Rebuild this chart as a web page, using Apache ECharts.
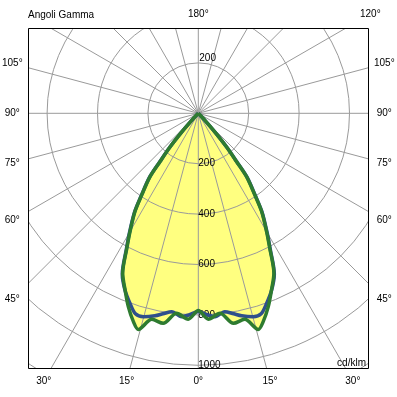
<!DOCTYPE html>
<html>
<head>
<meta charset="utf-8">
<title>Angoli Gamma</title>
<script src="https://cdn.jsdelivr.net/npm/echarts@6/dist/echarts.min.js"></script>
<style>
  html, body { margin: 0; padding: 0; background: #fff; }
  #main { width: 397px; height: 397px; }
</style>
</head>
<body>
<div id="main"></div>
<script>
// gamma angles (deg from nadir) and intensities in cd/klm, one list per C plane
var gammaC0 =  [0, 2.5, 4.7, 7.6, 10, 12.1, 15.1, 17.4, 19.8, 22.5, 25.3, 27.9, 30, 32.8, 34.7, 37.3, 38.4, 40, 41.5, 43, 45, 50, 90];
var planeC0 =  [787, 800, 810, 794, 808, 822, 836, 834, 801, 760, 706, 610, 546, 468, 398, 320, 250, 178, 102, 42, 5, 0, 0];
var gammaC90 = [0, 2.8, 6.2, 9.5, 12.7, 15.5, 17.3, 19.9, 22.5, 25.3, 27.9, 30, 32.8, 34.7, 37.3, 38.4, 40, 41.5, 43, 45, 50, 90];
var planeC90 = [783, 818, 798, 845, 838, 890, 866, 816, 759, 702, 606, 542, 464, 394, 316, 245, 175, 100, 40, 5, 0, 0];

var radiusTicks = [200, 400, 600, 800, 1000];
var sideLabels = [105, 90, 75, 60, 45];
var bottomLabels = [30, 15, 0, 15, 30];
var topLabels = [180, 120];

var W = 397;
var box = { x: 28, y: 28, w: 340, h: 340 };
var cx = 198.3, cy = 113.3;
var pxPerCd = 0.252;
var rMax = 1300;
var FONT = '"Liberation Sans", Arial, sans-serif';

// left half: angle = gamma, right half: angle = 360 - gamma
function curve(gammas, vals) {
    var pts = [];
    for (var i = gammas.length - 1; i >= 0; i--) pts.push([vals[i], gammas[i]]);
    for (var j = 1; j < gammas.length; j++) pts.push([vals[j], 360 - gammas[j]]);
    return pts;
}

var chart = echarts.init(document.getElementById('main'), null, { renderer: 'canvas' });

var graphics = [];
// white mask outside the frame
graphics.push({ type: 'rect', z: 100, shape: { x: 0, y: 0, width: W, height: box.y }, style: { fill: '#fff' } });
graphics.push({ type: 'rect', z: 100, shape: { x: 0, y: box.y + box.h, width: W, height: W }, style: { fill: '#fff' } });
graphics.push({ type: 'rect', z: 100, shape: { x: 0, y: 0, width: box.x, height: W }, style: { fill: '#fff' } });
graphics.push({ type: 'rect', z: 100, shape: { x: box.x + box.w, y: 0, width: W, height: W }, style: { fill: '#fff' } });
graphics.push({ type: 'rect', z: 101, shape: { x: box.x + 0.5, y: box.y + 0.5, width: box.w, height: box.h }, style: { fill: null, stroke: '#000', lineWidth: 1 } });

function txt(x, y, s, align) {
    graphics.push({ type: 'text', z: 102, x: x, y: y,
        style: { text: s, font: '10px ' + FONT, fill: '#000', align: align || 'center', verticalAlign: 'middle' } });
}
var rad = Math.PI / 180;
sideLabels.forEach(function (g) {
    var dy = 186 / Math.tan(g * rad);
    txt(cx - 186, cy + dy, g + '°');
    txt(cx + 186, cy + dy, g + '°');
});
bottomLabels.forEach(function (g, i) {
    var dx = (381 - cy) * Math.tan(g * rad);
    txt(i < 2 ? cx - dx : cx + dx, 381, g + '°');
});
topLabels.forEach(function (g) {
    txt(cx + (cy - 14) * Math.tan((180 - g) * rad), 14, g + '°');
});
txt(box.x, 15, 'Angoli Gamma', 'left');
graphics.push({ type: 'text', z: 102, x: box.x + box.w - 2, y: 363,
    style: { text: 'cd/klm', font: '10px ' + FONT, fill: '#000', align: 'right', verticalAlign: 'middle' } });
// the 200 ring label above the centre
txt(cx + 1, cy - radiusTicks[0] * pxPerCd - 5, String(radiusTicks[0]), 'left');

var option = {
    animation: false,
    backgroundColor: '#fff',
    polar: { center: [cx, cy], radius: rMax * pxPerCd },
    angleAxis: {
        type: 'value', min: 0, max: 360, interval: 15, startAngle: 270, clockwise: true, z: 2,
        axisLine: { show: false }, axisTick: { show: false }, axisLabel: { show: false },
        splitLine: { show: true, lineStyle: { color: '#9a9a9a', width: 1 } }
    },
    radiusAxis: {
        type: 'value', min: 0, max: rMax, interval: 200, z: 2,
        axisLine: { show: false }, axisTick: { show: false },
        axisLabel: {
            show: true, margin: 0, color: '#000', fontSize: 10, fontFamily: FONT,
            formatter: function (v) { return radiusTicks.indexOf(v) >= 0 ? String(v) : ''; }
        },
        splitLine: { show: true, lineStyle: { color: '#9a9a9a', width: 1 } }
    },
    series: [
        // yellow fill below the grid
        { type: 'line', coordinateSystem: 'polar', data: curve(gammaC90, planeC90), symbol: 'none', smooth: 0.3, z: 1,
          lineStyle: { width: 0 }, areaStyle: { color: '#ffff80', opacity: 1 } },
        { type: 'line', coordinateSystem: 'polar', data: curve(gammaC0, planeC0), symbol: 'none', smooth: 0.3, z: 1,
          lineStyle: { width: 0 }, areaStyle: { color: '#ffff80', opacity: 1 } },
        { name: 'C0-180', type: 'line', coordinateSystem: 'polar', data: curve(gammaC0, planeC0), symbol: 'none', smooth: 0.3, z: 3,
          lineStyle: { color: '#2f4f8c', width: 3.5 } },
        { name: 'C90-270', type: 'line', coordinateSystem: 'polar', data: curve(gammaC90, planeC90), symbol: 'none', smooth: 0.3, z: 4,
          lineStyle: { color: '#2e7b30', width: 3.5 } }
    ],
    graphic: graphics
};
chart.setOption(option);
</script>
</body>
</html>
